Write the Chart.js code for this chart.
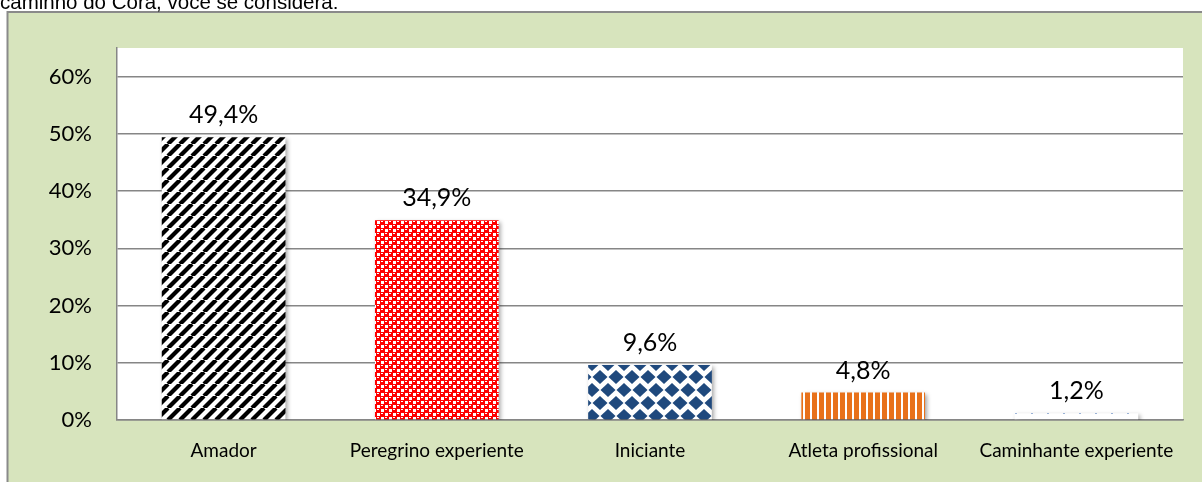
<!DOCTYPE html>
<html>
<head>
<meta charset="utf-8">
<script src="https://cdn.jsdelivr.net/npm/chart.js@4.4.1/dist/chart.umd.min.js"></script>
<style>
  html, body { margin: 0; padding: 0; background: #fff; overflow: hidden; }
  #wrap { position: relative; width: 1202px; height: 482px; }
  #grafico { position: absolute; left: 0; top: 0; }
  #pergunta { position: absolute; left: 0px; top: -10px; font: 20.5px/24px "Liberation Sans", Arial, sans-serif; color: #000; white-space: nowrap; }
</style>
</head>
<body>
<div id="wrap">
  <canvas id="grafico" width="1202" height="482"></canvas>
  <div id="pergunta">caminho do Cora, você se considera:</div>
</div>
<script>
const categorias = ["Amador", "Peregrino experiente", "Iniciante", "Atleta profissional", "Caminhante experiente"]
const percentuais = [49.4, 34.9, 9.6, 4.8, 1.2]
const yTicks = [0, 10, 20, 30, 40, 50, 60]
const yMax = 65

const fonte = "Lato, 'Open Sans', sans-serif"

// padroes das barras (como no excel)
function makeTile(w, h, draw) {
  const c = document.createElement("canvas")
  c.width = w
  c.height = h
  const g = c.getContext("2d")
  draw(g)
  return document.getElementById("grafico").getContext("2d").createPattern(c, "repeat")
}

const listrasPretas = makeTile(12, 12, g => {
  g.fillStyle = "#fff"
  g.fillRect(0, 0, 12, 12)
  g.strokeStyle = "#000"
  g.lineWidth = 4.2
  for (const k of [-12, 0, 12]) {
    g.beginPath()
    g.moveTo(k, 12)
    g.lineTo(k + 12, 0)
    g.stroke()
  }
})

const xadrezVermelho = makeTile(8, 8, g => {
  g.fillStyle = "#ff0000"
  g.fillRect(0, 0, 8, 8)
  g.fillStyle = "#fff"
  g.fillRect(5, 1, 3, 3)
  g.fillRect(1, 5, 3, 3)
  g.fillRect(1, 1, 2, 1)
  g.fillRect(5, 5, 2, 1)
})

const losangosAzuis = makeTile(16, 26, g => {
  g.fillStyle = "#fff"
  g.fillRect(0, 0, 16, 26)
  g.fillStyle = "#1f497d"
  const centros = [[0, 0], [16, 0], [8, 13], [0, 26], [16, 26]]
  for (const [cx, cy] of centros) {
    g.beginPath()
    g.moveTo(cx, cy - 7)
    g.lineTo(cx + 7.5, cy)
    g.lineTo(cx, cy + 7)
    g.lineTo(cx - 7.5, cy)
    g.closePath()
    g.fill()
  }
})

const listrasLaranja = makeTile(7, 7, g => {
  g.fillStyle = "#fff"
  g.fillRect(0, 0, 7, 7)
  g.fillStyle = "#e8711a"
  g.fillRect(0, 0, 5, 7)
})

const pontilhado = makeTile(16, 7, g => {
  g.fillStyle = "#fff"
  g.fillRect(0, 0, 16, 7)
  g.fillStyle = "#7f9fcf"
  g.fillRect(7, 0, 2, 1)
})

const padroes = [listrasPretas, xadrezVermelho, losangosAzuis, listrasLaranja, pontilhado]

const moldura = {
  id: "moldura",
  beforeDraw(chart) {
    const ctx = chart.ctx
    const a = chart.chartArea
    ctx.save()
    ctx.fillStyle = "#d7e4bd"
    ctx.fillRect(7, 12, chart.width - 7, chart.height - 12)
    ctx.strokeStyle = "#8a8a8a"
    ctx.lineWidth = 2
    ctx.beginPath()
    ctx.moveTo(7.5, chart.height)
    ctx.lineTo(7.5, 12)
    ctx.lineTo(chart.width, 12)
    ctx.stroke()
    ctx.fillStyle = "#fff"
    ctx.fillRect(a.left, a.top, a.right - a.left, a.bottom - a.top)
    ctx.restore()
  },
  beforeDatasetsDraw(chart) {
    const ctx = chart.ctx
    ctx.save()
    ctx.shadowColor = "rgba(0,0,0,0.35)"
    ctx.shadowBlur = 4
    ctx.shadowOffsetX = 2
    ctx.shadowOffsetY = 2
  },
  afterDatasetsDraw(chart) {
    const ctx = chart.ctx
    ctx.restore()
    ctx.save()
    ctx.font = "25px " + fonte
    ctx.fillStyle = "#000"
    ctx.textAlign = "center"
    ctx.textBaseline = "middle"
    chart.getDatasetMeta(0).data.forEach((bar, i) => {
      const txt = percentuais[i].toFixed(1).replace(".", ",") + "%"
      ctx.fillText(txt, bar.x, bar.y - 22)
    })
    ctx.restore()
  }
}

new Chart(document.getElementById("grafico"), {
  type: "bar",
  data: {
    labels: categorias,
    datasets: [{
      data: percentuais,
      backgroundColor: padroes,
      borderWidth: 0,
      categoryPercentage: 1,
      barPercentage: 0.58
    }]
  },
  options: {
    responsive: false,
    animation: false,
    layout: { padding: { top: 48, right: 19, left: 0, bottom: 0 } },
    plugins: { legend: { display: false }, tooltip: { enabled: false } },
    scales: {
      x: {
        grid: { display: false, drawTicks: false },
        border: { display: true, color: "#868686", width: 1.5 },
        ticks: { padding: 19, color: "#000", font: { family: fonte, size: 19 } },
        afterFit: s => { s.height = 62 }
      },
      y: {
        min: 0,
        max: yMax,
        grid: { color: "#868686", lineWidth: 1.5, drawTicks: false },
        border: { display: true, color: "#868686", width: 1.5 },
        ticks: { padding: 25, color: "#000", font: { family: fonte, size: 22 }, callback: v => v + "%" },
        afterBuildTicks: s => { s.ticks = yTicks.map(v => ({ value: v })) },
        afterFit: s => { s.width = 117 }
      }
    }
  },
  plugins: [moldura]
})
</script>
</body>
</html>
